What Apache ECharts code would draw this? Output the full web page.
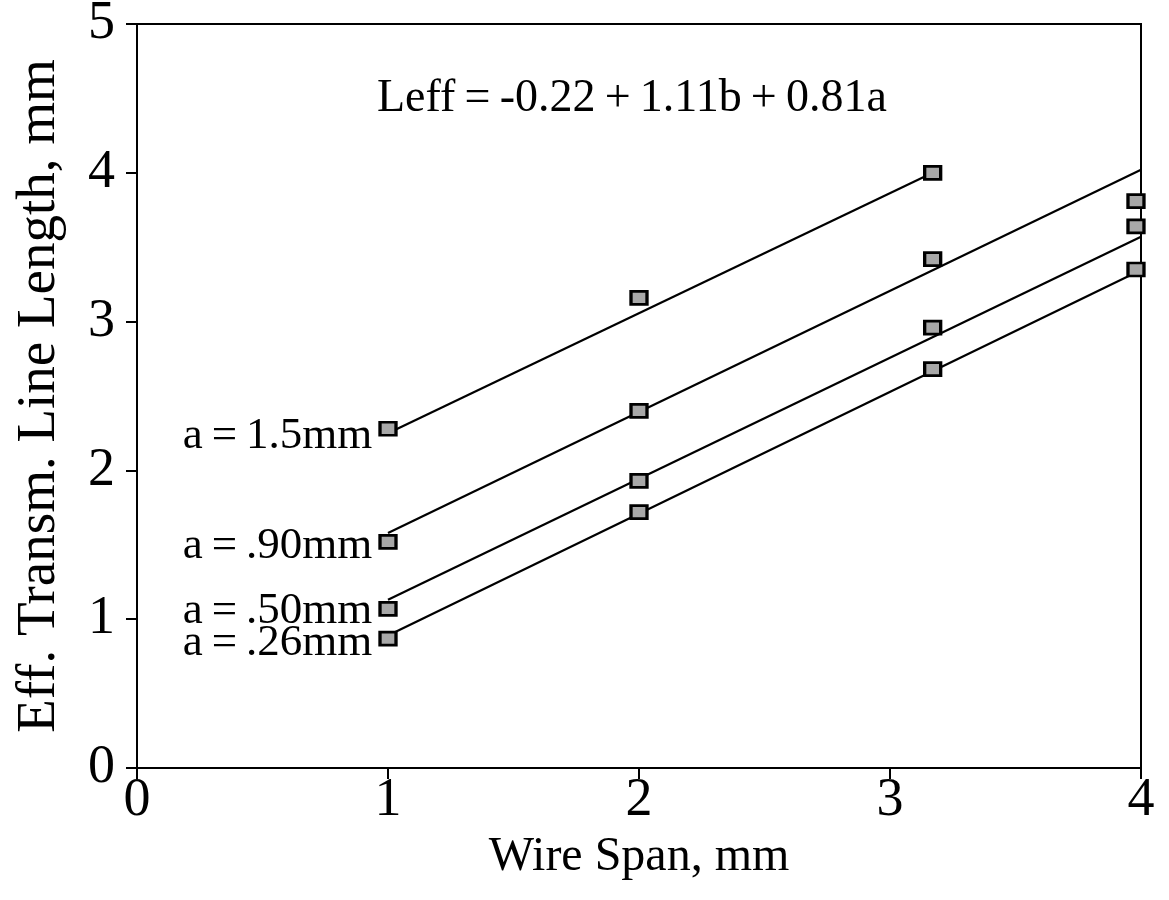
<!DOCTYPE html>
<html>
<head>
<meta charset="utf-8">
<script src="https://cdn.jsdelivr.net/npm/echarts@6/dist/echarts.min.js"></script>
<style>html,body{margin:0;padding:0;background:#fff}#c{width:1169px;height:900px}</style>
</head>
<body>
<div id="c"></div>
<script>
// Data
const seriesNames = ['a\u2009=\u20091.5mm', 'a\u2009=\u2009.90mm', 'a\u2009=\u2009.50mm', 'a\u2009=\u2009.26mm'];
const pts15 = [[1, 2.28], [2, 3.16], [3.17, 4.00]];
const pts90 = [[1, 1.52], [2, 2.40], [3.17, 3.42], [3.98, 3.81]];
const pts50 = [[1, 1.07], [2, 1.93], [3.17, 2.96], [3.98, 3.64]];
const pts26 = [[1, 0.87], [2, 1.72], [3.17, 2.68], [3.98, 3.35]];
const fit15 = [[1, 2.25], [3.17, 4.00]];
const fit90 = [[1, 1.58], [4, 4.02]];
const fit50 = [[1, 1.13], [4, 3.57]];
const fit26 = [[1, 0.89], [3.98, 3.33]];
const xTicks = [0, 1, 2, 3, 4];
const yTicks = [0, 1, 2, 3, 4, 5];
const equation = 'Leff\u2009=\u2009-0.22\u2009+\u20091.11b\u2009+\u20090.81a';

const FONT = '"Liberation Serif", "Times New Roman", serif';
const chart = echarts.init(document.getElementById('c'));

function fitSeries(d) {
  return { type: 'line', data: d, symbol: 'none', silent: true, z: 2,
    lineStyle: { color: '#000', width: 2.2, opacity: 1 } };
}
function ptSeries(name, d, offY) {
  return { type: 'scatter', name: name, data: d.map((p, i) => i === 0 ? {
      value: p, label: { show: true, formatter: name, position: 'left', distance: 6,
        offset: [0, offY], fontFamily: FONT, fontSize: 45, color: '#000', opacity: 1 } } : { value: p }),
    symbol: 'rect', symbolSize: [16, 13], z: 3,
    itemStyle: { color: '#a8a8a8', borderColor: '#000', borderWidth: 3, opacity: 1 } };
}

chart.setOption({
  animation: false,
  backgroundColor: '#fff',
  grid: { left: 137, right: 28, top: 24, bottom: 132, show: true, borderColor: '#000', borderWidth: 2,
    containLabel: false, outerBoundsMode: 'none' },
  xAxis: {
    type: 'value', min: xTicks[0], max: xTicks[xTicks.length - 1], interval: 1,
    name: 'Wire Span, mm', nameLocation: 'middle', nameGap: 54,
    nameTextStyle: { fontFamily: FONT, fontSize: 48, color: '#000' },
    axisLine: { lineStyle: { color: '#000', width: 2 } },
    axisTick: { inside: false, length: 11, lineStyle: { color: '#000', width: 2 } },
    axisLabel: { fontFamily: FONT, fontSize: 54, color: '#000', margin: 6 },
    splitLine: { show: false }
  },
  yAxis: {
    type: 'value', min: yTicks[0], max: yTicks[yTicks.length - 1], interval: 1,
    name: 'Eff. Transm. Line Length, mm', nameLocation: 'middle', nameGap: 70,
    nameTextStyle: { fontFamily: FONT, fontSize: 55, color: '#000' },
    axisLine: { lineStyle: { color: '#000', width: 2 } },
    axisTick: { inside: false, length: 11, lineStyle: { color: '#000', width: 2 } },
    axisLabel: { fontFamily: FONT, fontSize: 54, color: '#000', margin: 22 },
    splitLine: { show: false }
  },
  graphic: [{ type: 'text', left: 377, top: 76,
    style: { text: equation, fontFamily: FONT, fontSize: 46, fill: '#000' } }],
  series: [
    fitSeries(fit15), fitSeries(fit90), fitSeries(fit50), fitSeries(fit26),
    ptSeries(seriesNames[0], pts15, 7), ptSeries(seriesNames[1], pts90, 4),
    ptSeries(seriesNames[2], pts50, 2), ptSeries(seriesNames[3], pts26, 5)
  ]
});
</script>
</body>
</html>
